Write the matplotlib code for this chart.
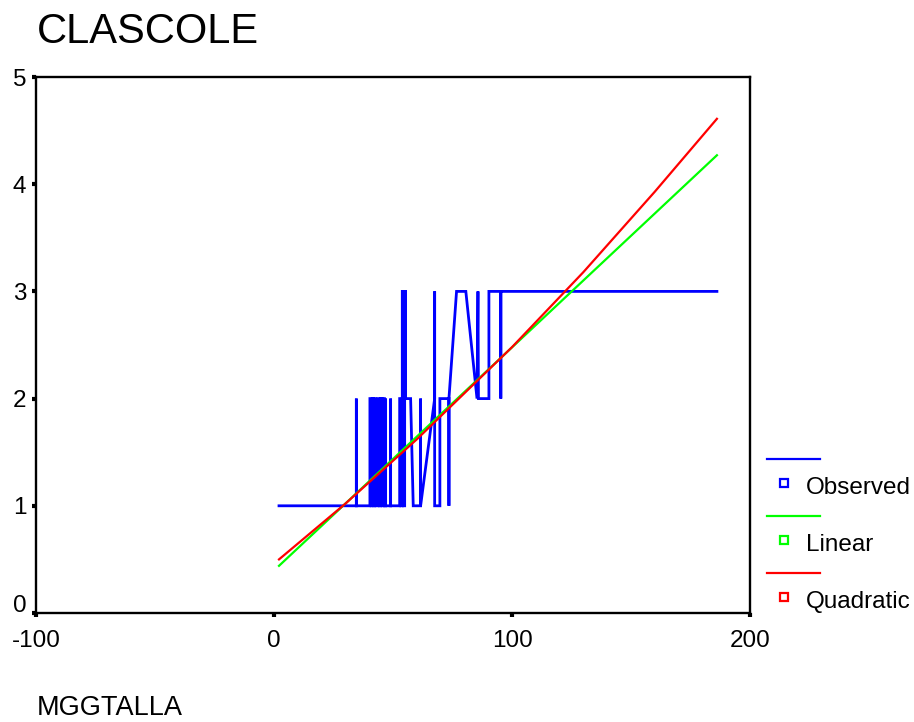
"""Curve fit of CLASCOLE on MGGTALLA: observed values with linear and quadratic fits."""
import matplotlib

matplotlib.use("Agg")
import matplotlib.pyplot as plt
import matplotlib.transforms as mtransforms
from matplotlib.lines import Line2D

plt.rcParams["font.family"] = ["Liberation Sans", "DejaVu Sans"]
plt.rcParams["axes.unicode_minus"] = False

W, H = 914, 722

# observed cases, in plotting order (ties at the same MGGTALLA give vertical strokes)
obs_x = [2.1, 34.6, 34.6, 34.6,
         40.3, 40.3, 40.8, 40.8, 41.3, 41.3, 41.8, 41.8, 42.3, 42.3, 42.7, 42.7,
         43.8, 43.8, 44.3, 44.3, 44.8, 44.8, 45.3, 45.3, 45.8, 45.8, 46.4, 46.4,
         46.9, 46.9, 46.9, 49.0, 49.0, 49.0,
         52.8, 52.8, 53.3, 53.3, 53.9, 53.9, 54.4, 54.4, 54.9, 54.9, 55.3, 55.3,
         57.4, 58.5, 60.9, 61.6, 61.6, 61.6, 67.5, 67.5, 67.5, 69.7, 69.7,
         73.5, 73.5, 73.5, 76.7, 80.6, 85.3, 85.7, 85.9, 90.3, 90.3,
         95.3, 95.3, 95.3, 186.1]
obs_y = [1, 1, 2, 1,
         1, 2, 2, 1, 1, 2, 2, 1, 1, 2, 2, 1,
         1, 2, 2, 1, 1, 2, 2, 1, 1, 2, 2, 1,
         1, 2, 1, 1, 2, 1,
         1, 2, 2, 1, 1, 3, 3, 1, 1, 3, 3, 2,
         2, 1, 1, 1, 2, 1, 2, 3, 1, 1, 2,
         2, 1, 2, 3, 3, 2, 3, 2, 2, 3,
         3, 2, 3, 3]

# fitted values
lin_x = [2.1, 186.1]
lin_y = [0.44, 4.27]
quad_x = [2.1, 30, 60, 100, 130, 160, 186.1]
quad_y = [0.50, 1.02, 1.62, 2.48, 3.18, 3.93, 4.61]

labels = ["Observed", "Linear", "Quadratic"]
colors = ["#0000ff", "#00ff00", "#ff0000"]

fig = plt.figure(figsize=(W / 100, H / 100), dpi=100)
ax = fig.add_axes([36 / W, 1 - 613 / H, (750 - 36) / W, (613 - 77) / H])

ax.plot(obs_x, obs_y, color=colors[0], lw=2.0, solid_joinstyle="miter")
ax.plot(lin_x, lin_y, color=colors[1], lw=1.6)
ax.plot(quad_x, quad_y, color=colors[2], lw=1.6)

ax.set_xlim(-100, 200)
ax.set_ylim(0, 5)
ax.set_xticks([-100, 0, 100, 200])
ax.set_yticks([0, 1, 2, 3, 4, 5])
for s in ax.spines.values():
    s.set_linewidth(1.7)
ax.tick_params(axis="both", direction="out", length=3, width=3, labelsize=17.5)
ax.tick_params(axis="x", pad=9)
ax.tick_params(axis="y", pad=4)

# the zero label sits just above the x axis
fig.canvas.draw()
zero_lab = ax.get_yticklabels()[0]
zero_lab.set_transform(zero_lab.get_transform()
                       + mtransforms.ScaledTranslation(0, 9 / 100, fig.dpi_scale_trans))

fig.text(37 / W, 1 - 43 / H, "CLASCOLE", fontsize=30, va="baseline", ha="left")
fig.text(37 / W, 1 - 708 / H, "MGGTALLA", fontsize=19.5, va="center", ha="left")

# legend: short line, then a hollow square with the label beneath it
for i, (lab, col) in enumerate(zip(labels, colors)):
    y_line = 459 + 57 * i
    y_box = 483 + 57 * i
    fig.add_artist(Line2D([767 / W, 820 / W], [1 - y_line / H] * 2,
                          color=col, lw=1.6, transform=fig.transFigure))
    fig.add_artist(Line2D([784 / W], [1 - y_box / H], marker="s", markersize=5.5,
                          markerfacecolor="white", markeredgecolor=col,
                          markeredgewidth=1.6, transform=fig.transFigure))
    fig.text(806 / W, 1 - (y_box + 5) / H, lab, fontsize=17.5, va="center", ha="left")

fig.savefig("out.png", dpi=100)
